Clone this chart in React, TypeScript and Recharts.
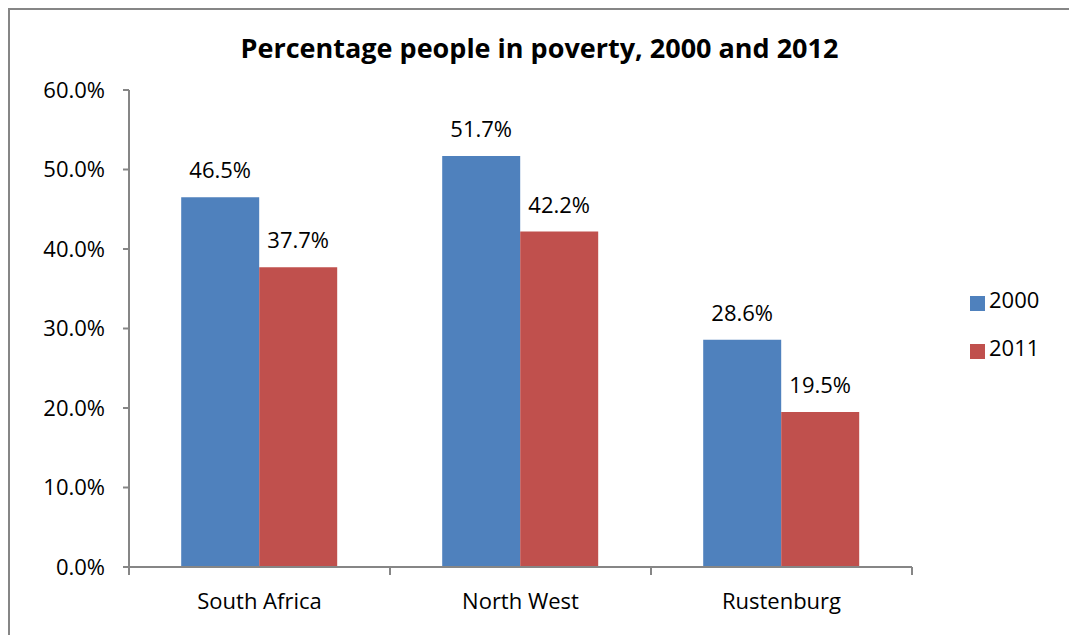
import React from "react";
import {
  BarChart,
  Bar,
  XAxis,
  YAxis,
  Legend,
  LabelList,
} from "recharts";

const regions = ["South Africa", "North West", "Rustenburg"];
const poverty2000 = [46.5, 51.7, 28.6];
const poverty2011 = [37.7, 42.2, 19.5];
const yTicks = [0, 10, 20, 30, 40, 50, 60];

const data = regions.map((name, i) => ({
  name,
  y2000: poverty2000[i],
  y2011: poverty2011[i],
}));

// tick marks sit on the category boundaries, like Excel
const edgeTicks = regions.map((_, i) => i).concat(regions.length);

const FONT = "'Open Sans', 'Liberation Sans', sans-serif";
const AXIS = "#868686";
const pct = (v: number) => `${Number(v).toFixed(1)}%`;

export default function App() {
  return (
    <div
      style={{
        position: "fixed",
        left: 8,
        top: 8,
        width: 1061,
        height: 627,
        boxSizing: "border-box",
        borderTop: `2px solid ${AXIS}`,
        borderLeft: `2px solid ${AXIS}`,
        background: "#fff",
        fontFamily: FONT,
      }}
    >
      <div
        style={{
          position: "absolute",
          left: 0,
          width: 1059,
          top: 22,
          textAlign: "center",
          fontWeight: 700,
          fontSize: 27,
          lineHeight: "32px",
          color: "#000",
        }}
      >
        Percentage people in poverty, 2000 and 2012
      </div>
      <BarChart
        width={1059}
        height={625}
        data={data}
        margin={{ top: 80, right: 67, bottom: 8, left: 0 }}
        barCategoryGap="20%"
        barGap={0}
      >
        <XAxis
          xAxisId="a"
          type="number"
          dataKey="edge"
          domain={[0, regions.length]}
          allowDataOverflow
          ticks={edgeTicks}
          interval={0}
          height={1}
          stroke={AXIS}
          strokeWidth={2}
          tickSize={8}
          tickFormatter={() => ""}
        />
        <XAxis
          xAxisId="b"
          dataKey="name"
          height={59}
          axisLine={false}
          tickLine={false}
          tickMargin={19}
          tick={{ fill: "#000", fontSize: 22, fontFamily: FONT }}
        />
        <YAxis
          width={119}
          domain={[0, 60]}
          ticks={yTicks}
          interval={0}
          stroke={AXIS}
          strokeWidth={2}
          tickSize={6}
          tickMargin={18}
          tickFormatter={pct}
          tick={{ fill: "#000", fontSize: 22, fontFamily: FONT }}
        />
        <Legend
          layout="vertical"
          align="right"
          verticalAlign="middle"
          iconType="square"
          iconSize={15}
          formatter={(v) => (
            <span style={{ color: "#000", fontSize: 22, fontFamily: FONT }}>{v}</span>
          )}
          wrapperStyle={{ left: 960, top: 267, width: 90, lineHeight: "45px" }}
        />
        <Bar xAxisId="b" dataKey="y2000" name="2000" fill="#4F81BD" isAnimationActive={false}>
          <LabelList
            dataKey="y2000"
            position="top"
            offset={19}
            formatter={pct}
            style={{ fill: "#000", fontSize: 22, fontFamily: FONT }}
          />
        </Bar>
        <Bar xAxisId="b" dataKey="y2011" name="2011" fill="#C0504D" isAnimationActive={false}>
          <LabelList
            dataKey="y2011"
            position="top"
            offset={19}
            formatter={pct}
            style={{ fill: "#000", fontSize: 22, fontFamily: FONT }}
          />
        </Bar>
      </BarChart>
    </div>
  );
}
